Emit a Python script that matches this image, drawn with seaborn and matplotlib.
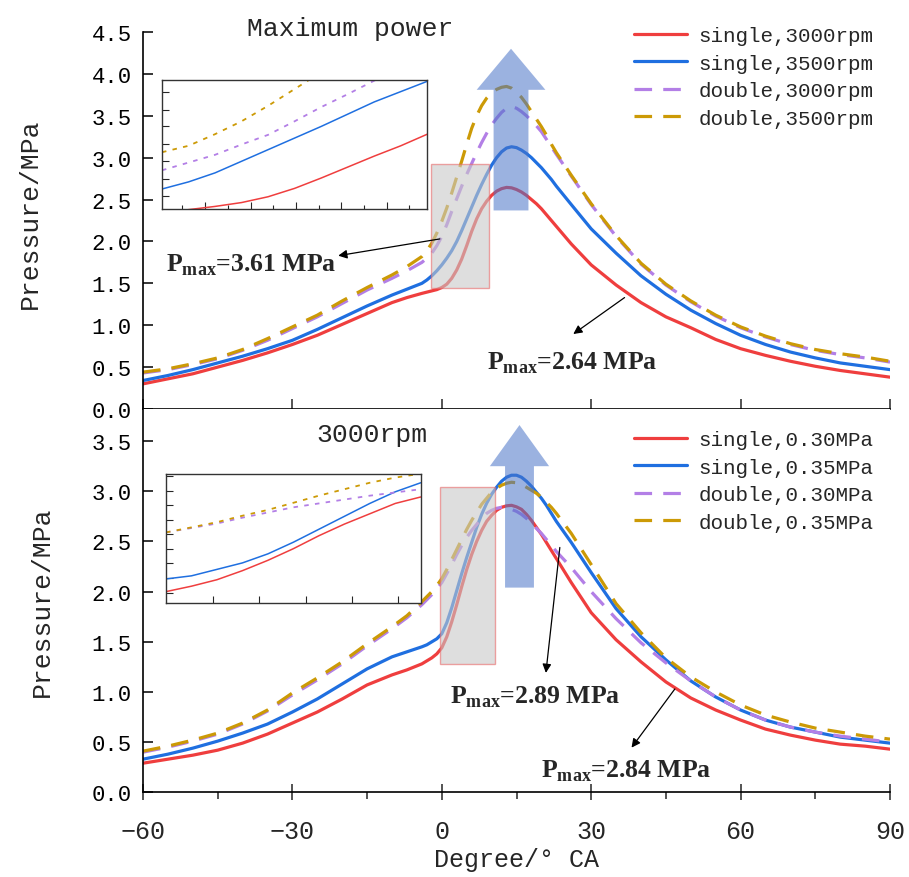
import numpy as np
import pandas as pd
import matplotlib
matplotlib.use('Agg')
import matplotlib.pyplot as plt
import seaborn as sns
from matplotlib.patches import Rectangle
from matplotlib.ticker import MultipleLocator, FixedLocator

# ---------------- data ----------------
deg = [-60, -55, -50, -45, -40, -35, -30, -25, -20, -15, -10, -7,
       -4, -3, -2, -1, 0, 1, 2, 3, 4, 5, 6, 7, 8, 9, 10, 11, 12, 13, 14, 15, 16, 17, 18, 19, 20, 21, 22, 23,
       26, 30, 35, 40, 45, 50, 55, 60, 65, 70, 75, 80, 85, 90]

# Maximum power
top_single_3000 = [0.30, 0.36, 0.42, 0.50, 0.58, 0.67, 0.77, 0.88, 1.01, 1.14, 1.27, 1.33,
                   1.38, 1.395, 1.41, 1.425, 1.45, 1.49, 1.56, 1.66, 1.79, 1.95, 2.12, 2.27, 2.39, 2.48, 2.55, 2.60, 2.63, 2.645, 2.64, 2.62, 2.59, 2.55, 2.50, 2.45, 2.39, 2.32, 2.25, 2.18,
                   1.97, 1.72, 1.48, 1.27, 1.10, 0.97, 0.83, 0.72, 0.64, 0.57, 0.51, 0.46, 0.42, 0.38]
top_single_3500 = [0.34, 0.40, 0.47, 0.55, 0.63, 0.72, 0.82, 0.95, 1.09, 1.23, 1.36, 1.43,
                   1.50, 1.54, 1.59, 1.65, 1.72, 1.80, 1.89, 2.00, 2.13, 2.27, 2.41, 2.55, 2.68, 2.80, 2.91, 3.00, 3.07, 3.115, 3.13, 3.12, 3.09, 3.05, 3.00, 2.94, 2.88, 2.81, 2.74, 2.66,
                   2.44, 2.15, 1.86, 1.59, 1.37, 1.18, 1.02, 0.88, 0.77, 0.68, 0.61, 0.55, 0.51, 0.47]
top_double_3000 = [0.43, 0.47, 0.53, 0.60, 0.70, 0.82, 0.96, 1.10, 1.26, 1.42, 1.56, 1.65,
                   1.75, 1.80, 1.86, 1.95, 2.06, 2.20, 2.36, 2.51, 2.66, 2.80, 2.93, 3.06, 3.18, 3.29, 3.39, 3.47, 3.54, 3.59, 3.61, 3.59, 3.55, 3.50, 3.44, 3.38, 3.31, 3.22, 3.13, 3.04,
                   2.78, 2.44, 2.06, 1.73, 1.48, 1.28, 1.11, 0.97, 0.86, 0.77, 0.70, 0.65, 0.61, 0.56]
top_double_3500 = [0.44, 0.48, 0.54, 0.61, 0.71, 0.84, 0.98, 1.12, 1.29, 1.45, 1.60, 1.70,
                   1.82, 1.89, 1.98, 2.10, 2.24, 2.40, 2.58, 2.77, 2.96, 3.16, 3.35, 3.50, 3.62, 3.71, 3.77, 3.815, 3.84, 3.85, 3.83, 3.78, 3.72, 3.64, 3.55, 3.46, 3.37, 3.27, 3.16, 3.06,
                   2.79, 2.45, 2.07, 1.74, 1.49, 1.29, 1.12, 0.98, 0.87, 0.78, 0.71, 0.66, 0.62, 0.57]

# 3000rpm
bot_single_030 = [0.29, 0.33, 0.37, 0.42, 0.49, 0.58, 0.69, 0.80, 0.93, 1.07, 1.17, 1.22,
                  1.28, 1.31, 1.34, 1.38, 1.44, 1.55, 1.70, 1.87, 2.05, 2.22, 2.37, 2.50, 2.61, 2.70, 2.76, 2.81, 2.84, 2.855, 2.86, 2.845, 2.82, 2.77, 2.71, 2.64, 2.57, 2.49, 2.41, 2.33,
                  2.09, 1.79, 1.52, 1.30, 1.10, 0.94, 0.82, 0.72, 0.63, 0.57, 0.52, 0.48, 0.46, 0.43]
bot_single_035 = [0.33, 0.38, 0.44, 0.51, 0.59, 0.68, 0.80, 0.93, 1.08, 1.23, 1.35, 1.40,
                  1.45, 1.47, 1.50, 1.53, 1.58, 1.69, 1.84, 2.01, 2.18, 2.34, 2.49, 2.64, 2.77, 2.88, 2.97, 3.04, 3.10, 3.14, 3.16, 3.16, 3.14, 3.10, 3.05, 2.99, 2.93, 2.86, 2.78, 2.70,
                  2.49, 2.19, 1.83, 1.55, 1.32, 1.11, 0.95, 0.82, 0.72, 0.65, 0.60, 0.55, 0.52, 0.49]
bot_double_030 = [0.40, 0.45, 0.51, 0.58, 0.68, 0.81, 0.97, 1.12, 1.28, 1.46, 1.63, 1.74,
                  1.87, 1.92, 1.97, 2.03, 2.09, 2.18, 2.27, 2.37, 2.46, 2.54, 2.61, 2.67, 2.73, 2.78, 2.81, 2.83, 2.84, 2.835, 2.82, 2.80, 2.77, 2.73, 2.68, 2.63, 2.58, 2.52, 2.46, 2.40,
                  2.24, 2.00, 1.73, 1.49, 1.29, 1.11, 0.95, 0.82, 0.72, 0.65, 0.60, 0.56, 0.53, 0.50]
bot_double_035 = [0.41, 0.46, 0.52, 0.59, 0.69, 0.82, 0.99, 1.14, 1.30, 1.48, 1.65, 1.76,
                  1.90, 1.95, 2.00, 2.06, 2.13, 2.22, 2.32, 2.42, 2.52, 2.62, 2.71, 2.79, 2.87, 2.93, 2.99, 3.03, 3.06, 3.08, 3.09, 3.085, 3.07, 3.04, 3.01, 2.98, 2.94, 2.89, 2.84, 2.78,
                  2.58, 2.27, 1.88, 1.59, 1.34, 1.15, 1.00, 0.87, 0.77, 0.70, 0.64, 0.60, 0.56, 0.53]

top_labels = ['single,3000rpm', 'single,3500rpm', 'double,3000rpm', 'double,3500rpm']
bot_labels = ['single,0.30MPa', 'single,0.35MPa', 'double,0.30MPa', 'double,0.35MPa']

# inset (zoomed detail, normalised units)
inset_u = [0.0, 0.1, 0.2, 0.3, 0.4, 0.5, 0.6, 0.7, 0.8, 0.9, 1.0]
inset_top_s3000 = [-0.04, -0.005, 0.02, 0.05, 0.095, 0.16, 0.24, 0.325, 0.41, 0.49, 0.58]
inset_top_s3500 = [0.155, 0.21, 0.28, 0.37, 0.46, 0.55, 0.64, 0.735, 0.83, 0.91, 0.99]
inset_top_d3000 = [0.30, 0.36, 0.42, 0.50, 0.575, 0.68, 0.79, 0.89, 0.995, 1.10, 1.20]
inset_top_d3500 = [0.44, 0.49, 0.58, 0.68, 0.80, 0.93, 1.06, 1.18, 1.30, 1.40, 1.50]
inset_bot_s030 = [0.088, 0.13, 0.18, 0.25, 0.33, 0.42, 0.52, 0.61, 0.69, 0.77, 0.82]
inset_bot_s035 = [0.186, 0.21, 0.26, 0.31, 0.38, 0.47, 0.57, 0.67, 0.77, 0.86, 0.93]
inset_bot_d030 = [0.546, 0.58, 0.615, 0.66, 0.70, 0.74, 0.77, 0.80, 0.83, 0.855, 0.88]
inset_bot_d035 = [0.546, 0.585, 0.625, 0.675, 0.72, 0.775, 0.83, 0.88, 0.93, 0.97, 1.0]

pmax_texts_top = ['3.61', '2.64']
pmax_texts_bot = ['2.89', '2.84']

# ---------------- style ----------------
sns.set_theme(style='ticks')
plt.rcParams['font.family'] = ['Liberation Mono', 'DejaVu Sans']
plt.rcParams['mathtext.fontset'] = 'custom'
plt.rcParams['mathtext.rm'] = 'Liberation Serif'
plt.rcParams['mathtext.bf'] = 'Liberation Serif:bold'
plt.rcParams['axes.unicode_minus'] = True

RED = '#ef3e3e'
BLUE = '#1f6fe0'
PURPLE = '#b37fe6'
GOLD = '#cc9a06'
colors = [RED, BLUE, PURPLE, GOLD]
DASH = (0, (5.5, 3.5))
styles = ['-', '-', DASH, DASH]

W, H = 909, 878
fig = plt.figure(figsize=(W / 100, H / 100), dpi=100)
ax1 = fig.add_axes([143 / W, 1 - 410 / H, 747 / W, 377 / H])
ax2 = fig.add_axes([143 / W, 1 - 793.3 / H, 747 / W, 383.3 / H])


def draw_main(ax, series, labels):
    for y, lab, c, ls in zip(series, labels, colors, styles):
        df = pd.DataFrame({'deg': deg, 'p': y})
        sns.lineplot(data=df, x='deg', y='p', ax=ax, color=c, lw=2.3, linestyle=ls,
                     label=lab, sort=False, errorbar=None, legend=False)


draw_main(ax1, [top_single_3000, top_single_3500, top_double_3000, top_double_3500], top_labels)
draw_main(ax2, [bot_single_030, bot_single_035, bot_double_030, bot_double_035], bot_labels)

for ax in (ax1, ax2):
    ax.set_xlim(-60, 90)
    ax.set_xticks([-60, -30, 0, 30, 60, 90])
    ax.yaxis.set_major_formatter(matplotlib.ticker.FormatStrFormatter('%.1f'))
    for s in ('top', 'right'):
        ax.spines[s].set_visible(False)
    for s in ('left', 'bottom'):
        ax.spines[s].set_linewidth(1.2)
        ax.spines[s].set_color('black')
    ax.tick_params(axis='y', direction='in', length=7, width=1.1, labelsize=16, pad=8, colors='black')
    ax.set_xlabel('')
    ax.set_ylabel('Pressure/MPa', fontsize=19)

ax1.set_ylim(0, 4.5)
ax1.set_yticks(np.arange(0, 4.51, 0.5))
ax1.tick_params(axis='x', direction='in', length=7, width=1.1, labelbottom=False)
ax1.yaxis.set_label_coords(-0.136, 0.52)

ax2.set_ylim(0, 3.82)
ax2.set_yticks(np.arange(0, 3.51, 0.5))
ax2.xaxis.set_minor_locator(MultipleLocator(15))
ax2.tick_params(axis='x', which='major', direction='inout', length=12, width=1.1, labelsize=18, pad=13)
ax2.tick_params(axis='x', which='minor', direction='out', length=5, width=1.1)
ax2.yaxis.set_label_coords(-0.119, 0.50)
ax2.set_xlabel('Degree/° CA', fontsize=18, labelpad=3)

# titles
ax1.text(-18.3, 4.55, 'Maximum power', fontsize=19, ha='center', va='center', clip_on=False)
ax2.text(-14.1, 3.57, '3000rpm', fontsize=19, ha='center', va='center')

# legends
for ax, top_px in ((ax1, 27), (ax2, 431)):
    h, l = ax.get_legend_handles_labels()
    ax.legend(h, l, loc='upper left', bbox_to_anchor=(634 / W, 1 - top_px / H),
              bbox_transform=fig.transFigure, frameon=False, fontsize=15,
              handlelength=2.55, handletextpad=0.55, labelspacing=0.41,
              borderpad=0, borderaxespad=0)

# grey zoom rectangles
ax1.add_patch(Rectangle((-2.2, 1.44), 11.7, 1.49, facecolor='#c8c8c8', alpha=0.6,
                        edgecolor='#e86a6a', lw=1.0, zorder=5))
ax2.add_patch(Rectangle((-0.3, 1.28), 11.0, 1.76, facecolor='#c8c8c8', alpha=0.6,
                        edgecolor='#e86a6a', lw=1.0, zorder=5))

# big blue arrows
ax1.arrow(13.9, 2.37, 0, 1.93, width=7.0, head_width=13.8, head_length=0.49,
          length_includes_head=True, facecolor='#4a74c8', edgecolor='none', alpha=0.55, zorder=6)
ax2.arrow(15.6, 2.04, 0, 1.62, width=5.8, head_width=11.9, head_length=0.41,
          length_includes_head=True, facecolor='#4a74c8', edgecolor='none', alpha=0.55, zorder=6)

# P_max annotations
tprops = dict(fontsize=18.5, family='Liberation Serif', weight='bold', va='center', ha='left')
aprops = dict(arrowstyle='-|>', lw=0.9, color='black', mutation_scale=13, shrinkA=0, shrinkB=0)


def pmax(ax, txt, x, y, a0, a1):
    ax.text(x, y, r'P$_{\mathbf{max}}$=' + txt + ' MPa', zorder=7, **tprops)
    ax.annotate('', xy=a1, xytext=a0, arrowprops=aprops, zorder=7)


pmax(ax1, pmax_texts_top[0], -55.3, 1.73, (-0.4, 2.03), (-20.8, 1.83))
pmax(ax1, pmax_texts_top[1], 9.0, 0.56, (36.7, 1.33), (26.4, 0.895))
pmax(ax2, pmax_texts_bot[0], 1.6, 0.96, (23.7, 2.44), (20.9, 1.19))
pmax(ax2, pmax_texts_bot[1], 20.0, 0.22, (46.8, 1.03), (38.1, 0.445))

# insets
inset_specs = [
    (ax1, [0.0254, 0.5305, 0.3552, 0.3422],
     [inset_top_s3000, inset_top_s3500, inset_top_d3000, inset_top_d3500],
     [0.163, 0.334, 0.505, 0.676, 0.847], [0.077, 0.248, 0.419, 0.59, 0.761, 0.932],
     [0.10, 0.236, 0.37, 0.506, 0.64, 0.77, 0.91]),
    (ax2, [0.0308, 0.4939, 0.341, 0.3373],
     [inset_bot_s030, inset_bot_s035, inset_bot_d030, inset_bot_d035],
     [0.186, 0.366, 0.548, 0.729, 0.912], [],
     [0.08, 0.19, 0.31, 0.42, 0.53, 0.644, 0.76, 0.87, 0.98]),
]
for ax, rect, ser, xmaj, xmin, yt in inset_specs:
    ia = ax.inset_axes(rect, zorder=8)
    for y, c, k in zip(ser, colors, range(4)):
        dfi = pd.DataFrame({'u': inset_u, 'v': y})
        ls = '-' if k < 2 else (0, (2.5, 3.5))
        sns.lineplot(data=dfi, x='u', y='v', ax=ia, color=c, lw=1.1 if k < 2 else 1.3,
                     linestyle=ls, sort=False, errorbar=None, legend=False)
    ia.set_xlim(0, 1)
    ia.set_ylim(0, 1)
    ia.set_xlabel('')
    ia.set_ylabel('')
    ia.xaxis.set_major_locator(FixedLocator(xmaj))
    ia.xaxis.set_minor_locator(FixedLocator(xmin))
    ia.yaxis.set_major_locator(FixedLocator(yt))
    ia.tick_params(which='major', direction='in', length=5, width=0.8, labelbottom=False, labelleft=False)
    ia.tick_params(which='minor', direction='in', length=3, width=0.8)
    for s in ia.spines.values():
        s.set_linewidth(1.0)
        s.set_color('#333333')
    ia.set_facecolor('white')

fig.savefig('out.png', dpi=100)
